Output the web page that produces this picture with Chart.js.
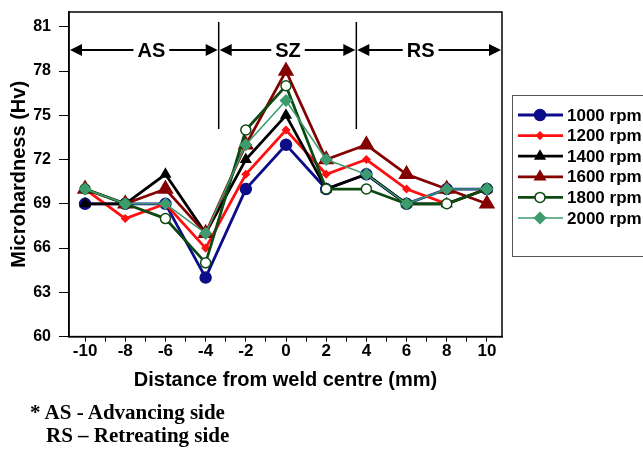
<!DOCTYPE html>
<html>
<head>
<meta charset="utf-8">
<script src="https://cdn.jsdelivr.net/npm/chart.js@4/dist/chart.umd.min.js"></script>
<style>
  html, body { margin: 0; padding: 0; background: #fff; }
  #wrap { position: relative; width: 643px; height: 452px; }
  .note { position: absolute; font-family: "Liberation Serif", "Times New Roman", serif; font-weight: bold; font-size: 21px; color: #000; white-space: nowrap; line-height: 24px; }
</style>
</head>
<body>
<div id="wrap">
  <canvas id="hardnessChart" width="643" height="452"></canvas>
  <div class="note" style="left:30px; top:400px;">* AS - Advancing side</div>
  <div class="note" style="left:46px; top:423px;">RS – Retreating side</div>
</div>
<script>
// Distance from weld centre (mm)
const distances = [-10, -8, -6, -4, -2, 0, 2, 4, 6, 8, 10];

// Microhardness (Hv) for each tool rotation speed
const rpm1000 = [69, 69, 69, 64, 70, 73, 70, 71, 69, 70, 70];
const rpm1200 = [70, 68, 69, 66, 71, 74, 71, 72, 70, 69, 70];
const rpm1400 = [69, 69, 71, 67, 72, 75, 70, 71, 69, 69, 70];
const rpm1600 = [70, 69, 70, 67, 73, 78, 72, 73, 71, 70, 69];
const rpm1800 = [70, 69, 68, 65, 74, 77, 70, 70, 69, 69, 70];
const rpm2000 = [70, 69, 69, 67, 73, 76, 72, 71, 69, 70, 70];

const seriesLabels = ["1000 rpm", "1200 rpm", "1400 rpm", "1600 rpm", "1800 rpm", "2000 rpm"];
const seriesValues = [rpm1000, rpm1200, rpm1400, rpm1600, rpm1800, rpm2000];

const yTicks = [60, 63, 66, 69, 72, 75, 78, 81];

// weld zones (x values of the zone borders and of the labels)
const zoneLabels = ["AS", "SZ", "RS"];
const zoneLabelX = [-6.7, 0.1, 6.7];
const zoneBorders = [-3.35, 3.5];

const styles = [
  { color: "#0d0d8a", fill: "#0d0d8a", shape: "circle", radius: 5.5, width: 2.8 },
  { color: "#ff1010", fill: "#ff1010", shape: "rectRot", radius: 3.5, width: 2.8 },
  { color: "#000000", fill: "#000000", shape: "triangle", radius: 5.5, width: 2.8 },
  { color: "#850000", fill: "#850000", shape: "triangle", radius: 8, width: 2.8 },
  { color: "#0c4a12", fill: "#ffffff", shape: "circle", radius: 5, width: 2.8 },
  { color: "#3d9c6e", fill: "#3d9c6e", shape: "rectRot", radius: 5.5, width: 1.5 }
];

const datasets = seriesValues.map(function (values, i) {
  return {
    label: seriesLabels[i],
    data: values.map(function (v, j) { return { x: distances[j], y: v }; }),
    borderColor: styles[i].color,
    backgroundColor: styles[i].fill,
    borderWidth: styles[i].width,
    pointStyle: styles[i].shape,
    pointRadius: styles[i].radius,
    pointBorderColor: styles[i].color,
    pointBackgroundColor: styles[i].fill,
    pointBorderWidth: 1.5,
    tension: 0,
    order: 5 - i
  };
});

function drawArrowHead(ctx, x, y, dir) {
  ctx.beginPath();
  ctx.moveTo(x, y);
  ctx.lineTo(x - dir * 12, y - 6);
  ctx.lineTo(x - dir * 12, y + 6);
  ctx.closePath();
  ctx.fill();
}

// box, zone markers and legend
const decorPlugin = {
  id: "decor",
  afterDraw(chart) {
    const ctx = chart.ctx;
    const area = chart.chartArea;
    const xs = chart.scales.x;
    ctx.save();

    // frame around plot
    ctx.strokeStyle = "#000";
    ctx.lineWidth = 1.5;
    ctx.strokeRect(area.left, area.top, area.right - area.left, area.bottom - area.top);

    // zone dividers
    const edges = [area.left].concat(zoneBorders.map(function (b) { return xs.getPixelForValue(b); }), [area.right]);
    for (let k = 1; k < edges.length - 1; k++) {
      ctx.beginPath();
      ctx.moveTo(edges[k], area.top + 10);
      ctx.lineTo(edges[k], area.top + 117);
      ctx.stroke();
    }

    // zone arrows with labels
    const ay = area.top + 38;
    ctx.font = "bold 20px 'Liberation Sans', Arial, sans-serif";
    ctx.textAlign = "center";
    ctx.textBaseline = "middle";
    ctx.fillStyle = "#000";
    ctx.lineWidth = 2;
    for (let k = 0; k < zoneLabels.length; k++) {
      const x0 = edges[k] + 1, x1 = edges[k + 1] - 1;
      const mid = xs.getPixelForValue(zoneLabelX[k]);
      const half = ctx.measureText(zoneLabels[k]).width / 2 + 4;
      ctx.beginPath();
      ctx.moveTo(x0 + 4, ay); ctx.lineTo(mid - half, ay);
      ctx.moveTo(mid + half, ay); ctx.lineTo(x1 - 4, ay);
      ctx.stroke();
      drawArrowHead(ctx, x0, ay, -1);
      drawArrowHead(ctx, x1, ay, 1);
      ctx.fillText(zoneLabels[k], mid, ay + 1);
    }

    // legend
    const lx = 512, ly = 95, lw = 140, lh = 161;
    ctx.strokeStyle = "#555";
    ctx.lineWidth = 1;
    ctx.strokeRect(lx + 0.5, ly + 0.5, lw, lh);
    ctx.font = "bold 17px 'Liberation Sans', Arial, sans-serif";
    ctx.textAlign = "left";
    chart.data.datasets.forEach(function (ds, i) {
      const yy = ly + 20 + i * 20.6;
      const s = styles[i];
      ctx.strokeStyle = s.color;
      ctx.lineWidth = s.width;
      ctx.beginPath();
      ctx.moveTo(518, yy); ctx.lineTo(563, yy);
      ctx.stroke();
      ctx.fillStyle = s.fill;
      ctx.strokeStyle = s.color;
      ctx.lineWidth = 1.5;
      Chart.helpers.drawPoint(ctx, {
        pointStyle: s.shape,
        radius: Math.min(s.radius, 6),
        borderWidth: 1.5,
        rotation: 0
      }, 540, yy);
      ctx.fillStyle = "#000";
      ctx.fillText(ds.label, 567, yy + 1);
    });
    ctx.restore();
  }
};

Chart.defaults.font.family = "'Liberation Sans', Arial, sans-serif";
Chart.defaults.color = "#000";

new Chart(document.getElementById("hardnessChart"), {
  type: "line",
  data: { datasets: datasets },
  options: {
    responsive: false,
    animation: false,
    layout: { padding: { left: 7, right: 141, top: 12, bottom: 60 } },
    plugins: {
      legend: { display: false },
      tooltip: { enabled: false }
    },
    scales: {
      x: {
        type: "linear",
        min: -10.8,
        max: 10.75,
        afterBuildTicks(scale) {
          const t = [];
          for (let v = -10; v <= 10; v++) t.push({ value: v });
          scale.ticks = t;
        },
        ticks: {
          autoSkip: false,
          maxRotation: 0,
          padding: 0,
          font: { size: 17, weight: "bold" },
          callback: function (v) { return v % 2 === 0 ? String(v) : ""; }
        },
        grid: { drawOnChartArea: false, tickLength: 5, color: "#000", lineWidth: 1 },
        border: { color: "#000", width: 1.5 },
        title: {
          display: true,
          text: "Distance from weld centre (mm)",
          font: { size: 20, weight: "bold" },
          padding: { top: 6, bottom: 0 }
        }
      },
      y: {
        min: 60,
        max: 82,
        afterBuildTicks(scale) {
          scale.ticks = yTicks.map(function (v) { return { value: v }; });
        },
        afterFit(scale) {
          scale.width = 62;
          scale.paddingTop = 0;
          scale.paddingBottom = 0;
        },
        ticks: {
          padding: 8,
          font: { size: 16, weight: "bold" }
        },
        grid: { drawOnChartArea: false, tickLength: 10, color: "#000", lineWidth: 1 },
        border: { color: "#000", width: 1.5 },
        title: {
          display: true,
          text: "Microhardness (Hv)",
          font: { size: 20, weight: "bold" },
          padding: { top: 0, bottom: 3 }
        }
      }
    }
  },
  plugins: [decorPlugin]
});
</script>
</body>
</html>
